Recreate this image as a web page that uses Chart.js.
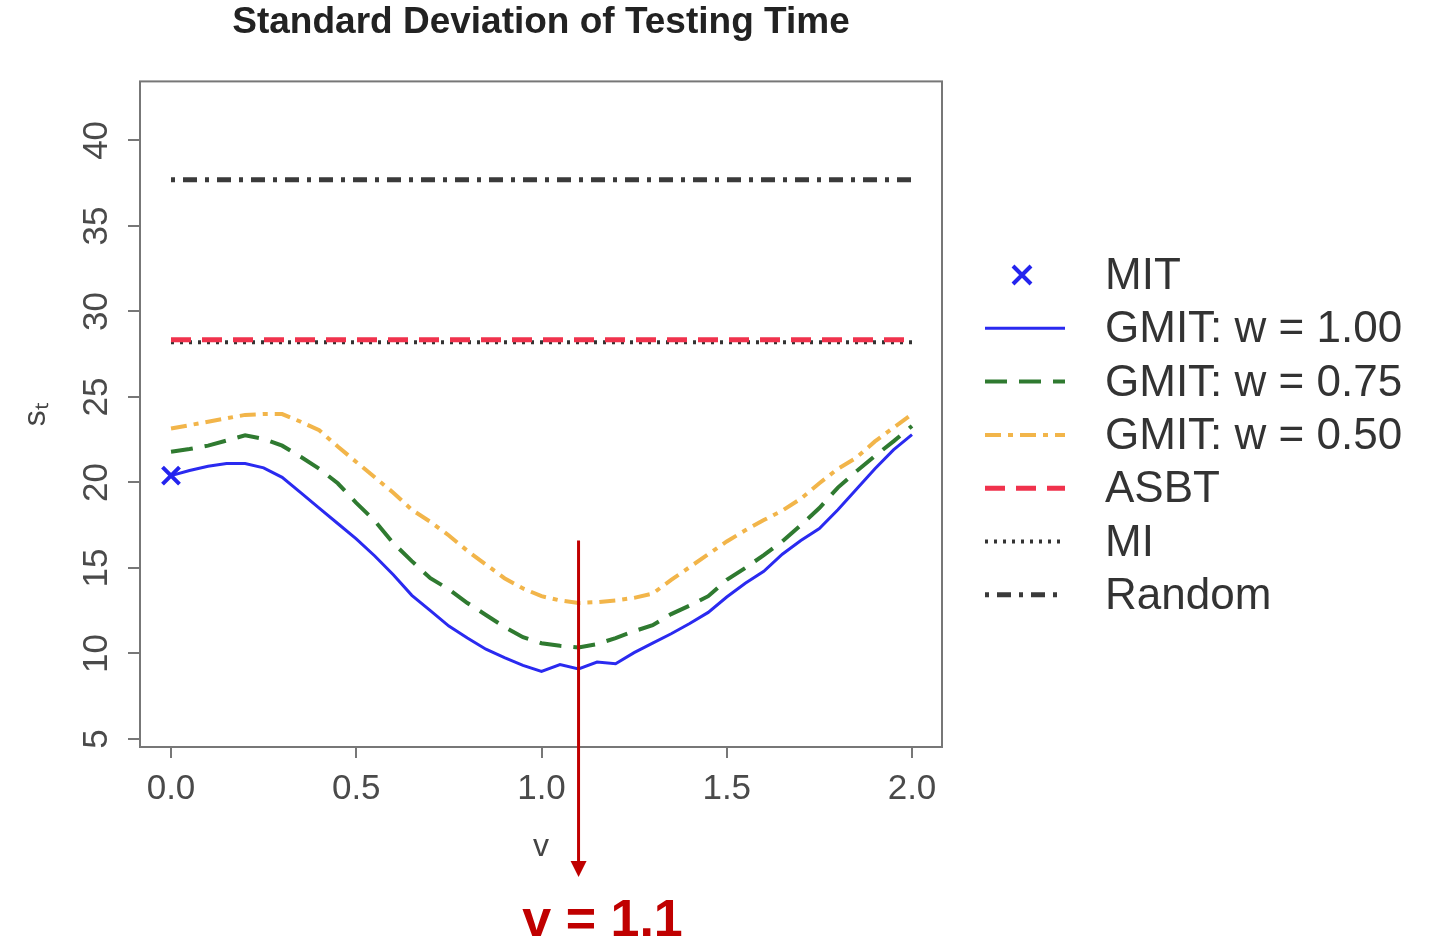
<!DOCTYPE html>
<html>
<head>
<meta charset="utf-8">
<script src="https://cdn.jsdelivr.net/npm/chart.js@4.4.0/dist/chart.umd.min.js"></script>
<style>
  html, body { margin: 0; padding: 0; background: #fff; }
</style>
</head>
<body>
<canvas id="chart" width="1434" height="949"></canvas>
<script>
// values
const vValues = [0, 0.05, 0.1, 0.15, 0.2, 0.25, 0.3, 0.35, 0.4, 0.45, 0.5, 0.55, 0.6, 0.65, 0.7, 0.75, 0.8, 0.85, 0.9, 0.95,
  1.0, 1.05, 1.1, 1.15, 1.2, 1.25, 1.3, 1.35, 1.4, 1.45, 1.5, 1.55, 1.6, 1.65, 1.7, 1.75, 1.8, 1.85, 1.9, 1.95, 2.0]
const gmit100 = [20.4, 20.7, 20.95, 21.1, 21.1, 20.85, 20.3, 19.4, 18.5, 17.6, 16.7, 15.7, 14.6, 13.4, 12.5, 11.6, 10.9, 10.25, 9.75, 9.3,
  8.95, 9.35, 9.1, 9.5, 9.4, 10.05, 10.6, 11.15, 11.75, 12.4, 13.3, 14.1, 14.8, 15.8, 16.6, 17.3, 18.4, 19.6, 20.8, 21.9, 22.8]
const gmit075 = [21.8, 21.95, 22.15, 22.45, 22.75, 22.55, 22.15, 21.5, 20.8, 19.95, 18.8, 17.75, 16.45, 15.4, 14.4, 13.75, 12.95, 12.25, 11.55, 10.95,
  10.6, 10.45, 10.35, 10.55, 10.9, 11.3, 11.65, 12.3, 12.8, 13.35, 14.3, 15.0, 15.75, 16.55, 17.5, 18.5, 19.7, 20.65, 21.55, 22.4, 23.3]
const gmit050 = [23.15, 23.35, 23.55, 23.75, 23.95, 24.0, 24.0, 23.55, 23.05, 22.1, 21.2, 20.3, 19.4, 18.4, 17.7, 16.9, 16.0, 15.2, 14.4, 13.8,
  13.35, 13.1, 12.95, 13.0, 13.1, 13.25, 13.5, 14.3, 15.05, 15.8, 16.55, 17.2, 17.8, 18.35, 19.05, 19.95, 20.8, 21.45, 22.4, 23.2, 24.0]
const mitValue = 20.4
const asbtValue = 28.35
const miValue = 28.2
const randomValue = 37.7
const xTicks = [0, 0.5, 1.0, 1.5, 2.0]
const yTicks = [5, 10, 15, 20, 25, 30, 35, 40]
const markV = 1.1
const markTop = 16.6

const FONT = "'Liberation Sans', Arial, sans-serif"

const toPoints = ys => ys.map((y, i) => ({ x: vValues[i], y }))
const flat = y => [{ x: vValues[0], y }, { x: vValues[vValues.length - 1], y }]

const lineSet = (label, data, color, width, dash) => ({
  label,
  data,
  borderColor: color,
  backgroundColor: color,
  borderWidth: width,
  borderDash: dash,
  pointRadius: 0,
  tension: 0,
  fill: false,
})

const datasets = [
  {
    label: "MIT",
    data: [{ x: vValues[0], y: mitValue }],
    showLine: false,
    pointStyle: "crossRot",
    pointRadius: 12,
    pointBorderWidth: 4,
    borderColor: "#2424ee",
    backgroundColor: "#2424ee",
  },
  lineSet("GMIT: w = 1.00", toPoints(gmit100), "#2a2af0", 3, []),
  lineSet("GMIT: w = 0.75", toPoints(gmit075), "#2f7a30", 4, [22, 12]),
  lineSet("GMIT: w = 0.50", toPoints(gmit050), "#f2b54a", 4, [16, 7, 5, 7]),
  lineSet("ASBT", flat(asbtValue), "#f0324c", 5, [20, 11]),
  lineSet("MI", flat(miValue), "#333333", 4, [3, 6]),
  lineSet("Random", flat(randomValue), "#3a3a3a", 5, [4, 8, 14, 8]),
]

const framePlugin = {
  id: "frame",
  beforeDatasetsDraw(chart) {
    const { ctx, chartArea: a } = chart
    ctx.save()
    ctx.strokeStyle = "#777"
    ctx.lineWidth = 2
    ctx.strokeRect(a.left, a.top, a.right - a.left, a.bottom - a.top)
    ctx.restore()
  },
  afterDraw(chart) {
    const { ctx } = chart
    const y = chart.scales.y
    // rotated y tick labels, as R draws them
    ctx.save()
    ctx.fillStyle = "#4a4a4a"
    ctx.font = "35px " + FONT
    ctx.textAlign = "center"
    ctx.textBaseline = "middle"
    y.ticks.forEach(t => {
      const py = y.getPixelForValue(t.value)
      ctx.save()
      ctx.translate(97, py)
      ctx.rotate(-Math.PI / 2)
      ctx.fillText(String(t.value), 0, 0)
      ctx.restore()
    })
    ctx.restore()
  },
}

const legendPlugin = {
  id: "sideLegend",
  afterDraw(chart) {
    const { ctx } = chart
    const x0 = 985, x1 = 1065, tx = 1105
    let ty = 275
    ctx.save()
    chart.data.datasets.forEach(ds => {
      ctx.strokeStyle = ds.borderColor
      if (ds.pointStyle === "crossRot") {
        const cx = (x0 + x1) / 2 - 3
        ctx.lineWidth = 4
        ctx.setLineDash([])
        ctx.beginPath()
        ctx.moveTo(cx - 9, ty - 9); ctx.lineTo(cx + 9, ty + 9)
        ctx.moveTo(cx + 9, ty - 9); ctx.lineTo(cx - 9, ty + 9)
        ctx.stroke()
      } else {
        ctx.lineWidth = ds.borderWidth
        ctx.setLineDash(ds.borderDash)
        ctx.beginPath()
        ctx.moveTo(x0, ty); ctx.lineTo(x1, ty)
        ctx.stroke()
      }
      ctx.setLineDash([])
      ctx.fillStyle = "#333"
      ctx.font = "44px " + FONT
      ctx.textAlign = "left"
      ctx.textBaseline = "middle"
      ctx.fillText(ds.label, tx, ty + 2)
      ty += 53.3
    })
    ctx.restore()
  },
}

const markPlugin = {
  id: "mark",
  afterDraw(chart) {
    const { ctx, chartArea } = chart
    const px = chart.scales.x.getPixelForValue(markV)
    const top = chart.scales.y.getPixelForValue(markTop)
    const tip = chartArea.bottom + 130
    ctx.save()
    ctx.strokeStyle = "#c00000"
    ctx.fillStyle = "#c00000"
    ctx.lineWidth = 3
    ctx.beginPath()
    ctx.moveTo(px, top); ctx.lineTo(px, tip - 14)
    ctx.stroke()
    ctx.beginPath()
    ctx.moveTo(px - 8, tip - 16); ctx.lineTo(px + 8, tip - 16); ctx.lineTo(px, tip)
    ctx.closePath()
    ctx.fill()
    ctx.font = "bold 52px " + FONT
    ctx.textAlign = "center"
    ctx.textBaseline = "middle"
    ctx.fillText("v = " + markV.toFixed(1), px + 24, tip + 45)
    ctx.restore()
  },
}

new Chart(document.getElementById("chart"), {
  type: "line",
  data: { datasets },
  options: {
    responsive: false,
    animation: false,
    devicePixelRatio: 1,
    layout: { padding: { left: 0, top: 0, right: 492, bottom: 0 } },
    plugins: {
      legend: { display: false },
      tooltip: { enabled: false },
      title: {
        display: true,
        text: "Standard Deviation of Testing Time",
        fullSize: false,
        color: "#222",
        font: { family: FONT, size: 37, weight: "bold" },
        padding: { top: 1, bottom: 36 },
      },
    },
    scales: {
      x: {
        type: "linear",
        min: -0.0837,
        max: 2.081,
        afterBuildTicks: s => { s.ticks = xTicks.map(v => ({ value: v })) },
        afterFit: s => { s.height = 202 },
        grid: { drawOnChartArea: false, tickLength: 11, color: "#777", lineWidth: 2 },
        border: { display: false },
        ticks: {
          color: "#4a4a4a",
          font: { family: FONT, size: 35 },
          padding: 10,
          maxRotation: 0,
          callback: v => Number(v).toFixed(1),
        },
        title: {
          display: true,
          text: "v",
          color: "#444",
          font: { family: FONT, size: 32 },
          padding: { top: 4, bottom: 83 },
        },
      },
      y: {
        type: "linear",
        min: 4.53,
        max: 43.45,
        afterBuildTicks: s => { s.ticks = yTicks.map(v => ({ value: v })) },
        afterFit: s => { s.width = 140 },
        grid: { drawOnChartArea: false, tickLength: 12, color: "#777", lineWidth: 2 },
        border: { display: false },
        ticks: { display: false },
        title: {
          display: true,
          text: "sₜ",
          color: "#444",
          font: { family: FONT, size: 32 },
          padding: { top: 17, bottom: 4 },
        },
      },
    },
  },
  plugins: [framePlugin, legendPlugin, markPlugin],
})
</script>
</body>
</html>
